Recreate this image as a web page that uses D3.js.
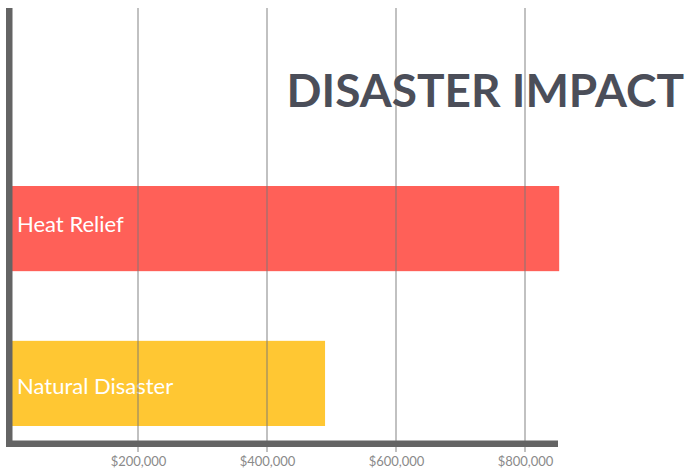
<!DOCTYPE html>
<html>
<head>
<meta charset="utf-8">
<script src="https://cdn.jsdelivr.net/npm/d3@7"></script>
<style>
  body { margin: 0; background: #fff; }
  svg { display: block; }
</style>
</head>
<body>
<svg id="chart" width="688" height="470"></svg>
<script>
// data
var categories = ["Heat Relief", "Natural Disaster"];
var amounts = [853000, 490000];
var barColors = ["#ff6058", "#ffc733"];
var tickValues = [200000, 400000, 600000, 800000];

var svg = d3.select("#chart");

// scales
var x = d3.scaleLinear()
    .domain([0, 800000])
    .range([9, 525]);

var y = d3.scaleBand()
    .domain(categories)
    .range([186, 426])
    .paddingInner(0.45)
    .paddingOuter(0);

// bars
svg.selectAll("rect.bar")
    .data(categories)
    .enter().append("rect")
    .attr("class", "bar")
    .attr("x", 12)
    .attr("y", function(d) { return y(d); })
    .attr("width", function(d, i) { return x(amounts[i]) - 12; })
    .attr("height", y.bandwidth())
    .style("fill", function(d, i) { return barColors[i]; });

// bar labels (small nudge as in the original)
var labelNudge = [-4, 3];
svg.selectAll("text.label")
    .data(categories)
    .enter().append("text")
    .attr("class", "label")
    .attr("x", 17)
    .attr("y", function(d, i) { return y(d) + y.bandwidth() / 2 + labelNudge[i]; })
    .attr("dy", "0.35em")
    .style("font-family", "Lato, sans-serif")
    .style("font-size", "22px")
    .style("fill", "#fff")
    .text(function(d) { return d; });

// grid lines (over the bars)
var g = svg.append("g");

g.selectAll("line.grid")
    .data(tickValues)
    .enter().append("line")
    .attr("class", "grid")
    .attr("x1", function(d) { return x(d); })
    .attr("x2", function(d) { return x(d); })
    .attr("y1", 8)
    .attr("y2", 452)
    .style("stroke", "#777")
    .style("stroke-opacity", 0.7)
    .style("stroke-width", 1.3);

// tick labels via axis
var xAxis = d3.axisBottom(x)
    .tickValues(tickValues)
    .tickSize(0)
    .tickPadding(0)
    .tickFormat(d3.format("$,"));

var axisG = svg.append("g")
    .attr("transform", "translate(0,457)")
    .call(xAxis);
axisG.select(".domain").remove();
axisG.selectAll("text")
    .attr("dy", "0.71em")
    .style("font-family", "Lato, sans-serif")
    .style("font-size", "13px")
    .style("fill", "#8a8a8a");

// axis frame
svg.append("line")
    .attr("x1", 9.25).attr("x2", 9.25)
    .attr("y1", 8).attr("y2", 447)
    .style("stroke", "#646464")
    .style("stroke-width", 6.5);

svg.append("line")
    .attr("x1", 6).attr("x2", 558)
    .attr("y1", 443.75).attr("y2", 443.75)
    .style("stroke", "#646464")
    .style("stroke-width", 6.5);

// title
svg.append("text")
    .attr("x", 684)
    .attr("y", 107)
    .attr("text-anchor", "end")
    .style("font-family", "Lato, sans-serif")
    .style("font-weight", "bold")
    .style("font-size", "46px")
    .style("fill", "#4b4e59")
    .text("DISASTER IMPACT");
</script>
</body>
</html>
